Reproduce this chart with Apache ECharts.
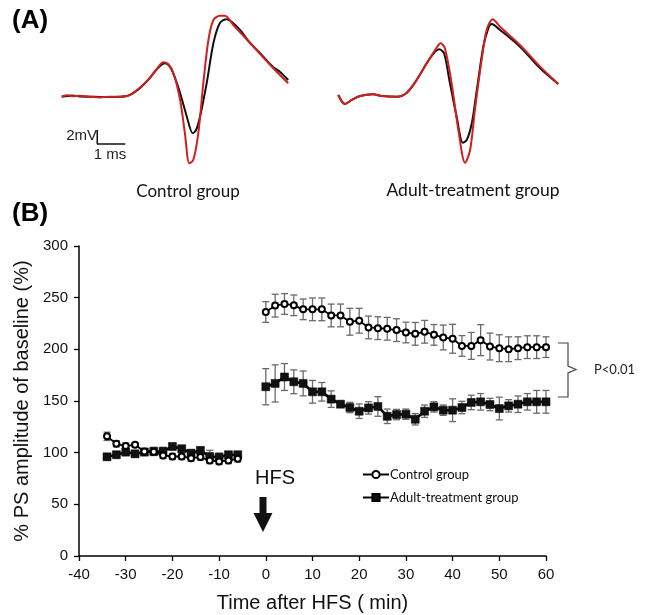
<!DOCTYPE html>
<html>
<head>
<meta charset="utf-8">
<script src="https://cdn.jsdelivr.net/npm/echarts@6/dist/echarts.min.js"></script>
<style>
html,body{margin:0;padding:0;background:#fff;}
#chart{width:648px;height:615px;}
</style>
</head>
<body>
<div id="chart"></div>
<script>
// ---------- Panel B data ----------
var preTime  = [-34,-32,-30,-28,-26,-24,-22,-20,-18,-16,-14,-12,-10,-8,-6];
var postTime = [0,2,4,6,8,10,12,14,16,18,20,22,24,26,28,30,32,34,36,38,40,42,44,46,48,50,52,54,56,58,60];

var controlPre    = [115.8,108.6,106.4,107.7,101.2,101,97.3,96.3,96.3,94.7,95.7,92.4,91.5,92.4,94];
var controlPreErr = [4,3,3,2,3,3,3,3,3,3,3,3,3,3,3];
var controlPost   = [236.1,242.3,243.9,242.6,238.7,238.7,238.7,232.8,232.8,226.7,227.7,221.2,220.5,219.9,218.6,216.3,215,217,214,211.5,210.2,203.3,203.3,208.9,202.7,201.1,200.1,201.1,202.1,202.1,202.1];
var controlPostErr= [10,11,10,10,10,11,11,11,11,13,12,11,11,11,11,10,11,11,10,12,14,10,13,15,13,13,12,11,11,11,10];

var adultPre     = [96,98,100.5,98.9,100.5,101.2,101.2,106,103.8,99.5,102.2,96.3,95.6,98,98];
var adultPreErr  = [3,3,3,3,3,4,4,3,3,3,3,6,4,3,3];
var adultPost    = [163.8,167,173.2,168.6,167,158.9,158.9,151.8,146.9,143.7,140.1,143.3,144.7,135.2,136.9,137.2,132.3,140.1,144.3,141.1,141.1,143.7,148.6,149.2,146.6,142.7,145.3,146.9,149.2,149.2,149.2];
var adultPostErr = [17.5,18,13,11.5,12,11,9,8,3,5,7,6,9.5,7,5,5,5.5,6,5,5,11,6,7,8,6,11,6,8,8,11,11];

var xTicks = [-40,-30,-20,-10,0,10,20,30,40,50,60];
var yTicks = [0,50,100,150,200,250,300];

// ---------- Panel A traces (time ms, voltage mV) ----------
var ctrlBlackT = [0.06,0.29,0.43,0.71,1.07,1.43,1.79,2.14,2.39,2.57,2.86,3.21,3.5,3.75,3.93,4.11,4.29,4.53,4.74,4.86,5.0,5.24,5.48,5.71,5.95,6.14,6.43,6.79,7.14,7.61,7.86,8.15];
var ctrlBlackV = [-0.1,0,0.07,-0.07,-0.1,-0.14,-0.14,-0.1,0,0.29,1.14,2.57,4,4.67,4.14,2.57,0.43,-2.96,-5.33,-4.86,-2.96,1.86,7.57,10.43,10.96,10.57,9.43,7.57,6.14,4.14,3.43,2.29];
var ctrlRedT   = [0.06,0.29,0.43,0.71,1.07,1.43,1.79,2.14,2.39,2.57,2.86,3.21,3.5,3.69,3.86,4.05,4.29,4.46,4.62,4.76,4.94,5.12,5.3,5.48,5.71,5.89,6.19,6.79,7.62,8.15];
var ctrlRedV   = [-0.05,0.1,-0.05,0.05,-0.1,-0.2,-0.1,-0.1,0,0.3,1.2,2.6,4.1,4.81,4.57,3.29,-0.57,-5.29,-9.61,-9.14,-5.29,1.86,8,10.86,11.47,11.47,10.14,7.57,3.96,1.81];
var adultBlackT = [0.08,0.32,0.56,0.86,1.33,1.63,2.17,2.53,2.88,3.24,3.54,3.69,3.86,4.07,4.31,4.53,4.67,4.85,5.03,5.26,5.44,5.56,5.86,6.57,7.29,7.94];
var adultBlackV = [0.14,-1.14,-0.57,0,0.24,0,-0.1,0.47,2.29,4.67,6.33,6.67,6.1,1.81,-2.96,-6.67,-6.29,-3.9,0.86,7.04,9.67,10.29,9.43,7.04,3.96,1.71];
var adultRedT   = [0.08,0.32,0.56,0.86,1.33,1.63,2.17,2.53,2.88,3.24,3.54,3.74,3.89,4.13,4.37,4.61,4.79,4.96,5.2,5.38,5.6,5.86,6.57,7.29,7.94];
var adultRedV   = [0.14,-1.14,-0.57,0,0.24,0,-0.1,0.47,2.29,4.67,6.57,7.53,6.81,1.81,-4.86,-9.53,-7.71,-2,5.14,9.43,10.96,9.9,7.29,4.19,1.71];
var scaleBarT = [1.33,1.33,2.33];
var scaleBarV = [-4.86,-6.86,-6.86];

function pairs(xs, ys){ return xs.map(function(x,i){ return [x, ys[i]]; }); }
function errData(xs, ys, es){ return xs.map(function(x,i){ return [x, ys[i], es[i]]; }); }

var controlErr = errData(preTime, controlPre, controlPreErr).concat(errData(postTime, controlPost, controlPostErr));
var adultErr   = errData(preTime, adultPre, adultPreErr).concat(errData(postTime, adultPost, adultPostErr));

function renderErr(params, api){
  var x = api.value(0), y = api.value(1), e = api.value(2);
  var hi = api.coord([x, y + e]);
  var lo = api.coord([x, y - e]);
  var cap = 3.5;
  var st = {stroke:'#6a6a6a', lineWidth:1.3};
  return {type:'group', children:[
    {type:'line', shape:{x1:hi[0],y1:hi[1],x2:lo[0],y2:lo[1]}, style:st},
    {type:'line', shape:{x1:hi[0]-cap,y1:hi[1],x2:hi[0]+cap,y2:hi[1]}, style:st},
    {type:'line', shape:{x1:lo[0]-cap,y1:lo[1],x2:lo[0]+cap,y2:lo[1]}, style:st}
  ]};
}

var AX = 'Liberation Sans, Arial, sans-serif';
var CAL = 'Lato, Open Sans, sans-serif';

function adultSeries(data){
  return {type:'line', name:'Adult-treatment group', xAxisIndex:0, yAxisIndex:0, data:data,
    symbol:'rect', symbolSize:8, showAllSymbol:true, showSymbol:true,
    lineStyle:{color:'#000', width:2.6}, itemStyle:{color:'#111', borderColor:'#000', borderWidth:0.5}, z:3};
}
function controlSeries(data){
  return {type:'line', name:'Control group', xAxisIndex:0, yAxisIndex:0, data:data,
    symbol:'emptyCircle', symbolSize:6, showAllSymbol:true, showSymbol:true,
    lineStyle:{color:'#000', width:1.8}, itemStyle:{color:'#000', borderWidth:1.2}, z:4};
}

var chart = echarts.init(document.getElementById('chart'), null, {renderer:'canvas'});
var option = {
  animation:false,
  backgroundColor:'#fff',
  grid:[
    {left:79, right:102, top:246, bottom:59, outerBoundsMode:'none', containLabel:false},
    {left:60, top:12, width:280, height:154, outerBoundsMode:'none'},
    {left:336, top:12, width:280, height:154, outerBoundsMode:'none'}
  ],
  xAxis:[
    {gridIndex:0, type:'value', min:-40, max:60, interval:10,
     axisLine:{show:true, onZero:false, lineStyle:{color:'#000', width:1.5}},
     axisTick:{show:true, length:5, lineStyle:{color:'#000', width:1.3}},
     axisLabel:{color:'#111', fontSize:15, fontFamily:AX, margin:11,
       formatter:function(v){ return xTicks.indexOf(v) >= 0 ? String(v) : ''; }},
     splitLine:{show:false},
     name:'Time after HFS ( min)', nameLocation:'middle', nameGap:37,
     nameTextStyle:{color:'#111', fontSize:20, fontFamily:AX}},
    {gridIndex:1, type:'value', min:0, max:10, show:false},
    {gridIndex:2, type:'value', min:0, max:10, show:false}
  ],
  yAxis:[
    {gridIndex:0, type:'value', min:0, max:300, interval:50,
     axisLine:{show:true, onZero:false, lineStyle:{color:'#000', width:1.5}},
     axisTick:{show:true, length:5, lineStyle:{color:'#000', width:1.3}},
     axisLabel:{color:'#111', fontSize:15, fontFamily:AX, margin:11,
       formatter:function(v){ return yTicks.indexOf(v) >= 0 ? String(v) : ''; }},
     splitLine:{show:false},
     name:'% PS amplitude of baseline (%)', nameLocation:'middle', nameGap:44,
     nameTextStyle:{color:'#111', fontSize:20, fontFamily:AX}},
    {gridIndex:1, type:'value', min:-10, max:12, show:false},
    {gridIndex:2, type:'value', min:-10, max:12, show:false}
  ],
  legend:{
    orient:'vertical', left:357, top:463, itemWidth:26, itemHeight:9, itemGap:10,
    textStyle:{color:'#111', fontSize:13, fontFamily:CAL, padding:[0,0,0,-4]},
    data:['Control group','Adult-treatment group']
  },
  series:[
    {type:'custom', name:'ctrlErr', xAxisIndex:0, yAxisIndex:0, renderItem:renderErr, data:controlErr, z:1, silent:true},
    {type:'custom', name:'adultErr', xAxisIndex:0, yAxisIndex:0, renderItem:renderErr, data:adultErr, z:1, silent:true},
    adultSeries(pairs(preTime, adultPre)),
    adultSeries(pairs(postTime, adultPost)),
    controlSeries(pairs(preTime, controlPre)),
    controlSeries(pairs(postTime, controlPost)),
    {type:'line', name:'ctrlBlack', xAxisIndex:1, yAxisIndex:1, data:pairs(ctrlBlackT, ctrlBlackV),
     showSymbol:false, smooth:0.3, lineStyle:{color:'#111', width:2}, silent:true},
    {type:'line', name:'ctrlRed', xAxisIndex:1, yAxisIndex:1, data:pairs(ctrlRedT, ctrlRedV),
     showSymbol:false, smooth:0.3, lineStyle:{color:'#d0201e', width:2}, silent:true},
    {type:'line', name:'scaleBar', xAxisIndex:1, yAxisIndex:1, data:pairs(scaleBarT, scaleBarV),
     showSymbol:false, lineStyle:{color:'#111', width:1.5}, silent:true},
    {type:'line', name:'adultBlack', xAxisIndex:2, yAxisIndex:2, data:pairs(adultBlackT, adultBlackV),
     showSymbol:false, smooth:0.3, lineStyle:{color:'#111', width:2}, silent:true},
    {type:'line', name:'adultRed', xAxisIndex:2, yAxisIndex:2, data:pairs(adultRedT, adultRedV),
     showSymbol:false, smooth:0.3, lineStyle:{color:'#d0201e', width:2}, silent:true}
  ],
  graphic:[
    {type:'text', left:12, top:8, style:{text:'(A)', font:'bold 26px '+AX, fill:'#000'}},
    {type:'text', left:12, top:201, style:{text:'(B)', font:'bold 26px '+AX, fill:'#000'}},
    {type:'text', x:97, y:136, style:{text:'2mV', font:'15px '+AX, fill:'#222', align:'right', verticalAlign:'middle'}},
    {type:'text', x:110, y:155, style:{text:'1 ms', font:'15px '+AX, fill:'#222', align:'center', verticalAlign:'middle'}},
    {type:'text', x:188, y:192, style:{text:'Control group', font:'17px '+CAL, fill:'#111', align:'center', verticalAlign:'middle'}},
    {type:'text', x:473, y:190, style:{text:'Adult-treatment group', font:'17.5px '+CAL, fill:'#111', align:'center', verticalAlign:'middle'}},
    {type:'text', x:275, y:478, style:{text:'HFS', font:'20px '+AX, fill:'#111', align:'center', verticalAlign:'middle'}},
    {type:'polygon', shape:{points:[[259.5,497],[266.5,497],[266.5,513],[272.5,513],[263,532],[253.5,513],[259.5,513]]}, style:{fill:'#111'}},
    {type:'polyline', shape:{points:[[558,343],[568,343],[568,366],[576,369.5],[568,373],[568,397],[558,397]]}, style:{stroke:'#444', lineWidth:1.2, fill:null}},
    {type:'text', x:594, y:370, style:{text:'P<0.01', font:'13px '+CAL, fill:'#222', verticalAlign:'middle'}}
  ]
};
chart.setOption(option);
</script>
</body>
</html>
